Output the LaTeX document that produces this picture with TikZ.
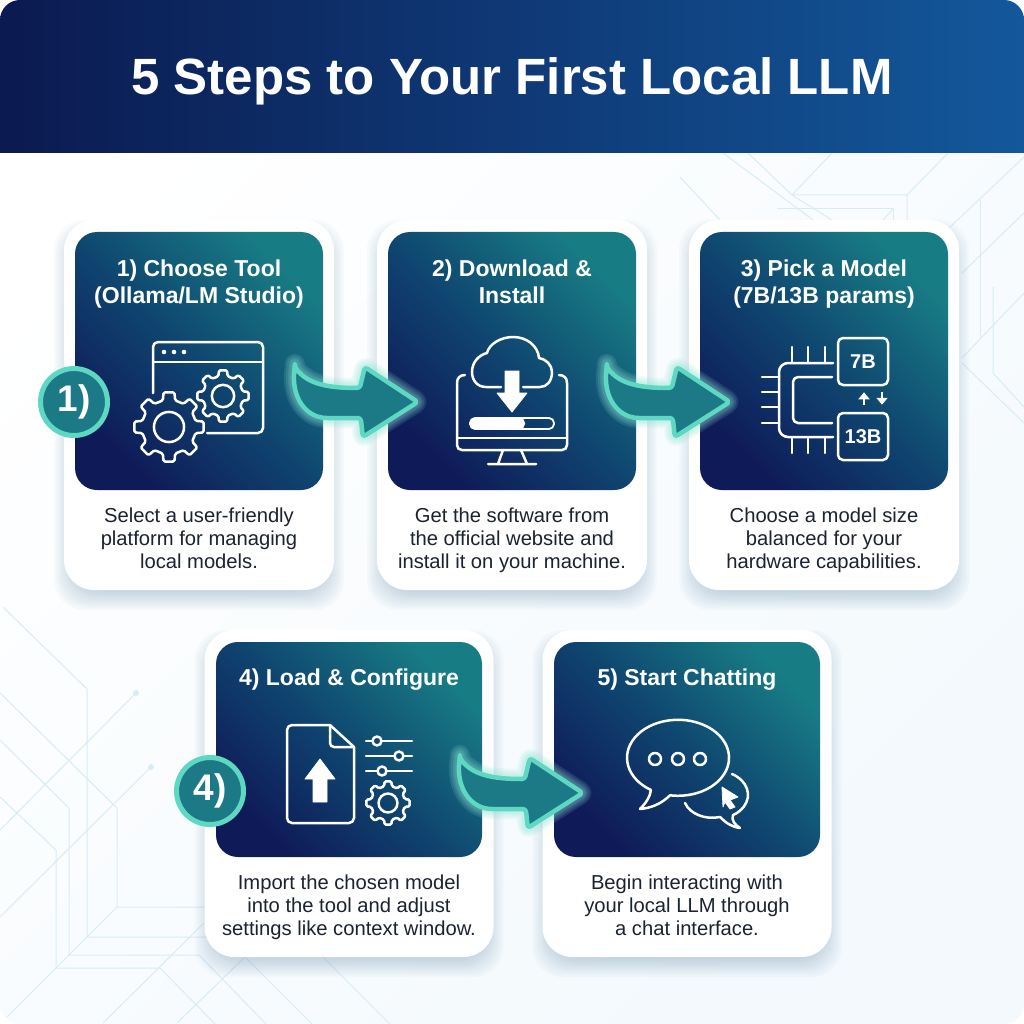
\documentclass[tikz,border=0pt]{standalone}
\usepackage{fontspec}
\setmainfont{Liberation Sans}
\usetikzlibrary{positioning,calc,arrows.meta}

\definecolor{navy}{HTML}{0F1A58}
\definecolor{midblue}{HTML}{0F4670}
\definecolor{teal}{HTML}{187C84}
\definecolor{headleft}{HTML}{0B1A50}
\definecolor{headright}{HTML}{13589B}
\definecolor{pagetint}{HTML}{F3F9FD}
\definecolor{trace}{HTML}{D8ECF5}
\definecolor{mint}{HTML}{5FD8C3}
\definecolor{badgefill}{HTML}{1C7A86}
\definecolor{bodyink}{HTML}{1B2230}
\definecolor{shadowblue}{HTML}{4F7FA8}

\tikzset{
  panel/.style={shade,rounded corners=22pt,inner sep=0pt,
    left color=navy,right color=teal,middle color=midblue,shading angle=135},
  cardbox/.style={fill=white,rounded corners=30pt,inner sep=0pt},
  cardshadow/.style={fill=shadowblue,opacity=.032,rounded corners=30pt,inner sep=0pt},
  steptitle/.style={text=white,align=center,font=\fontsize{23}{27.5}\selectfont\bfseries},
  steptext/.style={text=bodyink,align=center,font=\fontsize{20.2}{23}\selectfont},
  badge/.style={circle,fill=badgefill,draw=mint,line width=5pt,minimum size=67pt,inner sep=0pt,
    text=white,font=\fontsize{37}{37}\selectfont\bfseries},
  iconline/.style={draw=white,line width=2.5pt,line join=round,line cap=round},
  iconfill/.style={fill=white,draw=white,line width=.8pt,line join=round},
  traceline/.style={draw=trace,line width=1pt},
  tracedot/.style={fill=trace},
}

% outline of the bent arrow, tip at the origin
\newcommand{\arrowpath}{(-123,-35) .. controls (-110,-18) and (-90,-14) .. (-58,-14)
  -- (-53,-35) -- (0,0) -- (-55,35) -- (-57,16) -- (-88,16)
  .. controls (-112,16) and (-127,-5) .. (-123,-35) -- cycle}
\newcommand{\flowarrow}[1]{
  \begin{scope}[shift={(#1)},rounded corners=3pt]
    \foreach \w in {20,16,12,9}
      \draw[mint!70!white,opacity=.14,line width=\w pt,line join=round] \arrowpath;
    \draw[fill=badgefill,draw=mint,line width=4.5pt,line join=round] \arrowpath;
  \end{scope}
}
\newcommand{\gearicon}[3]{
  \draw[iconline,shift={(#1,#2)},scale=#3,rounded corners=1.5pt]
    (-13:.78) -- (-9:1) -- (9:1) -- (13:.78)
    \foreach \a in {45,90,...,315}{ -- (\a-13:.78) -- (\a-9:1) -- (\a+9:1) -- (\a+13:.78) }
    -- cycle (0,0) circle (.43);
}

\begin{document}
\begin{tikzpicture}[x=1pt,y=-1pt]
  \useasboundingbox (0,0) rectangle (1024,1024);
  \fill[white] (0,0) rectangle (1024,1024);
  \shade[rounded corners=20pt,left color=white,right color=pagetint,shading angle=45]
    (0,0) rectangle (1024,1024);

  % circuit lines, upper right
  \draw[traceline] (723,153) -- (813,220);
  \draw[traceline] (748,153) -- (792,195) -- (907,195) -- (907,220);
  \draw[traceline] (792,195) -- (832,153);
  \draw[traceline] (907,195) -- (948,153);
  \draw[traceline] (792,195) -- (832,220);
  \draw[traceline] (777,209) -- (893,209) -- (893,220);
  \draw[traceline] (893,209) -- (883,220);
  \draw[traceline] (680,177) -- (720,220);
  \draw[traceline] (980,200) -- (980,337);
  \draw[traceline] (947,230) -- (1024,157);
  \draw[traceline] (962,273) -- (1024,213);
  \draw[traceline] (993,287) -- (993,373) -- (1024,407);
  \draw[traceline] (962,358) -- (1024,293);
  \draw[traceline] (962,363) -- (1024,423);
  % circuit lines, lower left
  \draw[traceline] (3,607) -- (87,689) -- (87,937) -- (207,937);
  \draw[traceline] (0,693) -- (117,808) -- (117,907) -- (207,907);
  \draw[traceline] (0,740) -- (69,808) -- (69,955) -- (199,955) -- (266,1024);
  \draw[traceline] (0,797) -- (56,850) -- (56,968) -- (160,968) -- (215,1024);
  \draw[traceline] (136,693) -- (0,830);
  \draw[traceline] (151,767) -- (0,917);
  \draw[traceline] (7,1017) -- (117,907);
  \draw[traceline] (103,1023) -- (204,923);
  \draw[traceline] (177,1023) -- (245,957) -- (312,1024);
  \draw[traceline] (323,957) -- (390,1024);
  \fill[tracedot] (136,693) circle (3pt) (151,767) circle (3pt);

  % title band
  \shade[left color=headleft,right color=headright]
    (0,153) [rounded corners=20pt] -- (0,0) -- (1024,0) [sharp corners] -- (1024,153) -- cycle;
  \node[anchor=base,text=white,font=\fontsize{51}{51}\selectfont\bfseries] (title) at (512,95)
    {5 Steps to Your First Local LLM};

  % white cards with soft shadows, then the coloured panels
  \foreach \cname/\cx/\cy/\cw/\ch/\pcy/\pw/\ph in {
      one/199/405/270/370/361/248/258,
      two/512/405/270/370/361/248/258,
      three/824/405/270/370/361/248/258,
      four/349/793.5/289/327/749.5/266/215,
      five/687/793.5/289/327/749.5/266/215}{
    \foreach \g in {-10,-8,...,10}
      \node[cardshadow,minimum width=\cw pt+2*\g pt,minimum height=\ch pt+2*\g pt] at (\cx,\cy+10) {};
    \node[cardbox,minimum width=\cw pt,minimum height=\ch pt] (card\cname) at (\cx,\cy) {};
    \node[panel,minimum width=\pw pt,minimum height=\ph pt] (panel\cname) at (\cx,\pcy) {};
  }

  \node[steptitle] (titleone) at (199,284) {1) Choose Tool\\(Ollama/LM Studio)};
  \node[steptitle] (titletwo) at (512,282) {2) Download \&\\Install};
  \node[steptitle] (titlethree) at (824,284) {3) Pick a Model\\(7B/13B params)};
  \node[steptitle] (titlefour) at (349,680) {4) Load \& Configure};
  \node[steptitle] (titlefive) at (687,680) {5) Start Chatting};

  \node[steptext] (textone) at (199,538) {Select a user-friendly\\platform for managing\\local models.};
  \node[steptext] (texttwo) at (512,540) {Get the software from\\the official website and\\install it on your machine.};
  \node[steptext] (textthree) at (824,540) {Choose a model size\\balanced for your\\hardware capabilities.};
  \node[steptext] (textfour) at (349,907) {Import the chosen model\\into the tool and adjust\\settings like context window.};
  \node[steptext] (textfive) at (687,905) {Begin interacting with\\your local LLM through\\a chat interface.};

  % window and gears
  \draw[iconline,rounded corners=5pt] (153,393) -- (153,342) -- (263,342) -- (263,433) -- (207,433);
  \draw[iconline] (153,362) -- (263,362);
  \fill[white] (164,352) circle (2.3pt) (174,352) circle (2.3pt) (184,352) circle (2.3pt);
  \gearicon{169}{427}{35}
  \gearicon{223}{396}{26}

  % monitor, cloud and download
  \draw[iconline] (465,375) .. controls (460,375) and (457,378) .. (457,383) -- (457,445)
    .. controls (457,448) and (459,450) .. (462,450) -- (562,450)
    .. controls (565,450) and (567,448) .. (567,445) -- (567,383)
    .. controls (567,378) and (564,375) .. (559,375);
  \draw[iconline] (457,438) -- (567,438);
  \draw[iconline] (503,450) -- (498,464) (521,450) -- (527,464) (488,464) -- (536,464);
  \draw[iconline] (501,387) -- (486,387) .. controls (477,387) and (472,380) .. (472,372)
    .. controls (472,362) and (479,355) .. (487,353)
    .. controls (489,344) and (501,337) .. (513,337)
    .. controls (527,337) and (538,346) .. (539,358)
    .. controls (546,359) and (552,365) .. (552,372)
    .. controls (552,381) and (547,387) .. (540,387) -- (523,387);
  \fill[iconfill] (505,371) -- (519,371) -- (519,393) -- (527,393) -- (512,412) -- (497,393) -- (505,393) -- cycle;
  \draw[iconline,rounded corners=5pt,line width=1.8pt] (470,418) rectangle (554,429);
  \fill[white,rounded corners=5pt] (470,418) rectangle (525,429);

  % chip with the two sizes
  \draw[iconline,rounded corners=9pt] (833,363) -- (779,363) -- (779,437) -- (833,437);
  \draw[iconline,rounded corners=5pt] (832,377) -- (793,377) -- (793,423) -- (832,423);
  \foreach \px in {792,808,825}
    \draw[iconline] (\px,347) -- (\px,363) (\px,437) -- (\px,453);
  \foreach \py in {377,392,407,423}
    \draw[iconline] (762,\py) -- (779,\py);
  \node[iconline,rounded corners=5pt,minimum width=50pt,minimum height=47pt,inner sep=0pt,text=white,
    font=\fontsize{20}{20}\selectfont\bfseries] (boxseven) at (863,361.5) {7B};
  \node[iconline,rounded corners=5pt,minimum width=50pt,minimum height=47pt,inner sep=0pt,text=white,
    font=\fontsize{20}{20}\selectfont\bfseries] (boxthirteen) at (863,436.5) {13B};
  \draw[white,line width=2.6pt,-{Triangle[width=11pt,length=7pt]},shorten >=6pt,shorten <=7pt]
    ([xshift=1pt]boxthirteen.north) -- ([xshift=1pt]boxseven.south);
  \draw[white,line width=2.6pt,-{Triangle[width=11pt,length=7pt]},shorten >=7pt,shorten <=6pt]
    ([xshift=19pt]boxseven.south) -- ([xshift=19pt]boxthirteen.north);

  % file, sliders and gear
  \draw[iconline,rounded corners=5pt] (330,725) -- (287,725) -- (287,823) -- (354,823) -- (354,747);
  \draw[iconline] (330,725) -- (354,747);
  \draw[iconline,rounded corners=4pt] (330,725) -- (330,747) -- (354,747);
  \fill[iconfill] (320,759) -- (335,779) -- (327,779) -- (327,802) -- (313,802) -- (313,779) -- (305,779) -- cycle;
  \foreach \sy/\sx in {741/377,756/399,771/382}{
    \draw[iconline] (366,\sy) -- (412,\sy);
    \draw[iconline,fill=midblue] (\sx,\sy) circle (4.5pt);
  }
  \gearicon{388}{803}{22}

  % speech bubbles and pointer
  \draw[iconline] (651,790) arc[start angle=122,end angle=459,x radius=51,y radius=38]
    .. controls (660,805) and (650,808) .. (640,809)
    .. controls (646,803) and (650,797) .. (651,790) -- cycle;
  \foreach \dx in {655,678,700}
    \draw[iconline] (\dx,759) circle (6pt);
  \draw[iconline] (732,774) arc[start angle=-60,end angle=58,x radius=32,y radius=24]
    .. controls (731,820) and (735,825) .. (740,828)
    .. controls (732,827) and (726,823) .. (720,817)
    .. controls (705,820) and (690,814) .. (685,803);
  \fill[iconfill] (722,787) -- (738,797) -- (730,800) -- (735,807) -- (730,809) -- (725,802) -- (723,807) -- cycle;

  % arrows between the panels
  \coordinate (tipone) at ($(paneltwo.west)+(30,41)$);
  \coordinate (tiptwo) at ($(panelthree.west)+(30,41)$);
  \coordinate (tipthree) at ($(panelfive.west)+(29,43.5)$);
  \flowarrow{tipone}
  \flowarrow{tiptwo}
  \flowarrow{tipthree}

  \node[badge] (badgeone) at (74,402) {1)};
  \node[badge] (badgefour) at (210,791) {4)};
\end{tikzpicture}
\end{document}
